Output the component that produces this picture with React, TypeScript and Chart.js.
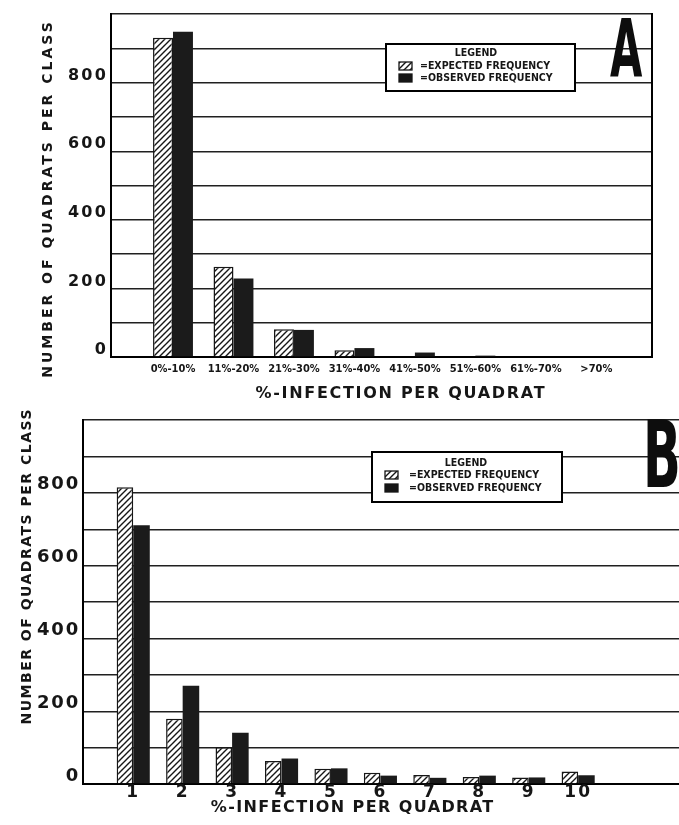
import React, { useEffect, useRef } from 'react';
import { Chart, registerables } from 'chart.js';

Chart.register(...registerables);

// ---- data ----
const classesA = ['0%-10%', '11%-20%', '21%-30%', '31%-40%', '41%-50%', '51%-60%', '61%-70%', '>70%'];
const expectedA = [931, 263, 81, 20, 3, 0, 0, 0];
const observedA = [948, 229, 79, 26, 13, 4, 0, 0];

const classesB = ['1', '2', '3', '4', '5', '6', '7', '8', '9', '10'];
const expectedB = [815, 179, 101, 63, 42, 31, 25, 19, 18, 34];
const observedB = [711, 270, 141, 70, 43, 23, 17, 23, 18, 24];

const yTickLabels = ['0', '200', '400', '600', '800'];
const seriesNames = ['=EXPECTED FREQUENCY', '=OBSERVED FREQUENCY'];
const legendTitle = 'LEGEND';
const yTitle = 'NUMBER OF QUADRATS PER CLASS';
const xTitle = '%-INFECTION PER QUADRAT';

const INK = '#161616';
const COND = "'DejaVu Sans Condensed', 'Liberation Sans Narrow', 'Arial Narrow', sans-serif";
const SANS = "'DejaVu Sans', sans-serif";

function makeHatch(): CanvasPattern | string {
  const c = document.createElement('canvas');
  c.width = 6;
  c.height = 6;
  const g = c.getContext('2d');
  if (!g) return '#888';
  g.fillStyle = '#fff';
  g.fillRect(0, 0, 6, 6);
  g.strokeStyle = INK;
  g.lineWidth = 1.4;
  g.beginPath();
  g.moveTo(-1, 7); g.lineTo(7, -1);
  g.moveTo(-1, 1); g.lineTo(1, -1);
  g.moveTo(5, 7); g.lineTo(7, 5);
  g.stroke();
  return g.createPattern(c, 'repeat') || '#888';
}

function spaced(ctx: any, text: string, x: number, y: number, font: string, spacing: number, rot = 0, align: CanvasTextAlign = 'center') {
  ctx.save();
  ctx.font = font;
  ctx.letterSpacing = spacing + 'px';
  ctx.fillStyle = INK;
  ctx.textAlign = align;
  ctx.textBaseline = 'middle';
  ctx.translate(x, y);
  if (rot) ctx.rotate(rot);
  ctx.fillText(text, align === 'center' ? spacing / 2 : 0, 0);
  ctx.restore();
}

type Spec = {
  classes: string[];
  expected: number[];
  observed: number[];
  width: number;
  height: number;
  padding: { top: number; right: number; left: number; bottom: number };
  yWidth: number;
  xHeight: number;
  xMin: number;
  xMax: number;
  catPct: number;
  xTickFont: any;
  xTickPad: number;
  xTickSpacing: number;
  yTickFont: any;
  yTickSpacing: number;
  yTickOffset: number;
  rightBorder: boolean;
  legend: { x: number; y: number; w: number; h: number; titleX: number; titleY: number; swX: number; swW: number; swH: number; rows: number[]; textX: number; font: string };
  letter: { text: string; x: number; y: number; size: number; sx: number };
  yT: { x: number; y: number; size: number; spacing: number };
  xT: { x: number; y: number; size: number; spacing: number };
};

function build(canvas: HTMLCanvasElement, s: Spec) {
  const hatch = makeHatch();
  const overlay = {
    id: 'overlay',
    beforeDraw(chart: any) {
      chart.ctx.letterSpacing = s.xTickSpacing + 'px';
    },
    afterDatasetsDraw(chart: any) {
      chart.ctx.letterSpacing = s.yTickSpacing + 'px';
    },
    afterDraw(chart: any) {
      const ctx = chart.ctx;
      const a = chart.chartArea;
      ctx.save();
      ctx.letterSpacing = '0px';
      if (s.rightBorder) {
        ctx.strokeStyle = '#000';
        ctx.lineWidth = 2;
        ctx.beginPath();
        ctx.moveTo(a.right, a.top - 1);
        ctx.lineTo(a.right, a.bottom + 1);
        ctx.stroke();
      }
      // legend box
      const L = s.legend;
      ctx.fillStyle = '#fff';
      ctx.fillRect(L.x, L.y, L.w, L.h);
      ctx.strokeStyle = '#000';
      ctx.lineWidth = 2;
      ctx.strokeRect(L.x, L.y, L.w, L.h);
      ctx.fillStyle = INK;
      ctx.font = L.font;
      ctx.textBaseline = 'middle';
      ctx.textAlign = 'center';
      ctx.fillText(legendTitle, L.titleX, L.titleY);
      ctx.textAlign = 'left';
      L.rows.forEach((ry, i) => {
        ctx.fillStyle = i === 0 ? hatch : INK;
        ctx.fillRect(L.swX, ry - L.swH / 2, L.swW, L.swH);
        ctx.strokeStyle = INK;
        ctx.lineWidth = 1.3;
        ctx.strokeRect(L.swX, ry - L.swH / 2, L.swW, L.swH);
        ctx.fillStyle = INK;
        ctx.fillText(seriesNames[i], L.textX, ry);
      });
      // big letter
      const T = s.letter;
      ctx.save();
      ctx.translate(T.x, T.y);
      ctx.scale(T.sx, 1);
      ctx.font = `bold ${T.size}px ${COND}`;
      ctx.textAlign = 'left';
      ctx.textBaseline = 'alphabetic';
      ctx.fillStyle = '#0d0d0d';
      ctx.fillText(T.text, 0, 0);
      ctx.restore();
      ctx.restore();
      // axis titles
      spaced(ctx, yTitle, s.yT.x, s.yT.y, `bold ${s.yT.size}px ${SANS}`, s.yT.spacing, -Math.PI / 2);
      spaced(ctx, xTitle, s.xT.x, s.xT.y, `bold ${s.xT.size}px ${SANS}`, s.xT.spacing);
    },
  };

  return new Chart(canvas, {
    type: 'bar',
    data: {
      datasets: [
        {
          label: seriesNames[0],
          data: s.expected.map((v, i) => ({ x: i, y: v })),
          backgroundColor: hatch as any,
          borderColor: INK,
          borderWidth: 1.5,
          borderSkipped: 'start',
          categoryPercentage: s.catPct,
          barPercentage: 1,
        },
        {
          label: seriesNames[1],
          data: s.observed.map((v, i) => ({ x: i, y: v })),
          backgroundColor: '#1b1b1b',
          borderWidth: 0,
          categoryPercentage: s.catPct,
          barPercentage: 1,
        },
      ] as any,
    },
    options: {
      animation: false,
      responsive: false,
      devicePixelRatio: 1,
      layout: { padding: s.padding },
      plugins: { legend: { display: false }, tooltip: { enabled: false } },
      scales: {
        x: {
          type: 'linear',
          min: s.xMin,
          max: s.xMax,
          offset: false,
          grid: { display: false, offset: false, drawTicks: false },
          border: { display: true, color: '#000', width: 2 },
          ticks: {
            autoSkip: false,
            maxRotation: 0,
            padding: s.xTickPad,
            color: INK,
            font: s.xTickFont,
            callback: (v: any) => (Number.isInteger(v) && s.classes[v] !== undefined ? s.classes[v] : ''),
          },
          afterBuildTicks: (axis: any) => {
            axis.ticks = s.classes.map((_, i) => ({ value: i }));
          },
          afterFit: (axis: any) => {
            axis.height = s.xHeight;
          },
        },
        y: {
          type: 'linear',
          min: 0,
          max: 1000,
          grid: { color: '#202020', lineWidth: 1.4, drawTicks: false },
          border: { display: true, color: '#000', width: 2 },
          ticks: {
            stepSize: 100,
            autoSkip: false,
            z: 1,
            padding: 3,
            labelOffset: s.yTickOffset,
            color: INK,
            font: s.yTickFont,
            callback: (v: any) => (yTickLabels.includes(String(v)) ? String(v) : ''),
          },
          afterFit: (axis: any) => {
            axis.width = s.yWidth;
          },
        },
      },
    } as any,
    plugins: [overlay],
  });
}

const specA: Spec = {
  classes: classesA,
  expected: expectedA,
  observed: observedA,
  width: 679,
  height: 400,
  padding: { top: 14, right: 27, left: 0, bottom: 0 },
  yWidth: 111,
  xHeight: 43,
  xMin: -1.025,
  xMax: 7.92,
  catPct: 0.66,
  xTickFont: { family: COND, size: 11, weight: 'bold' },
  xTickPad: 6,
  xTickSpacing: 0,
  yTickFont: { family: SANS, size: 16, weight: 'bold' },
  yTickSpacing: 2.2,
  yTickOffset: -7,
  rightBorder: true,
  legend: { x: 386, y: 44, w: 189, h: 47, titleX: 476, titleY: 53, swX: 399, swW: 13, swH: 8, rows: [66, 78], textX: 420, font: `bold 10.5px ${COND}` },
  letter: { text: 'A', x: 610, y: 77, size: 80, sx: 0.58 },
  yT: { x: 48, y: 200, size: 14, spacing: 3 },
  xT: { x: 400, y: 394, size: 16, spacing: 1.7 },
};

const specB: Spec = {
  classes: classesB,
  expected: expectedB,
  observed: observedB,
  width: 679,
  height: 425,
  padding: { top: 20, right: 0, left: 0, bottom: 0 },
  yWidth: 83,
  xHeight: 41,
  xMin: -1.016,
  xMax: 11.04,
  catPct: 0.67,
  xTickFont: { family: SANS, size: 17, weight: 'bold' },
  xTickPad: -2,
  xTickSpacing: 2,
  yTickFont: { family: SANS, size: 18, weight: 'bold' },
  yTickSpacing: 1.8,
  yTickOffset: -8,
  rightBorder: false,
  legend: { x: 372, y: 52, w: 190, h: 50, titleX: 466, titleY: 63, swX: 385, swW: 13, swH: 8, rows: [75, 88], textX: 409, font: `bold 10.5px ${COND}` },
  letter: { text: 'B', x: 643, y: 87, size: 92, sx: 0.6 },
  yT: { x: 27, y: 167, size: 14, spacing: 1.5 },
  xT: { x: 352, y: 408, size: 16, spacing: 1.4 },
};

function ChartCanvas({ spec, top }: { spec: Spec; top: number }) {
  const ref = useRef<HTMLCanvasElement>(null);
  useEffect(() => {
    if (!ref.current) return;
    const chart = build(ref.current, spec);
    return () => chart.destroy();
  }, [spec]);
  return (
    <canvas
      ref={ref}
      width={spec.width}
      height={spec.height}
      style={{ position: 'absolute', left: 0, top, width: spec.width, height: spec.height, display: 'block' }}
    />
  );
}

export default function App() {
  return (
    <div style={{ position: 'absolute', left: 0, top: 0, width: 679, height: 825, background: '#fff', overflow: 'hidden' }}>
      <ChartCanvas spec={specA} top={0} />
      <ChartCanvas spec={specB} top={400} />
    </div>
  );
}
